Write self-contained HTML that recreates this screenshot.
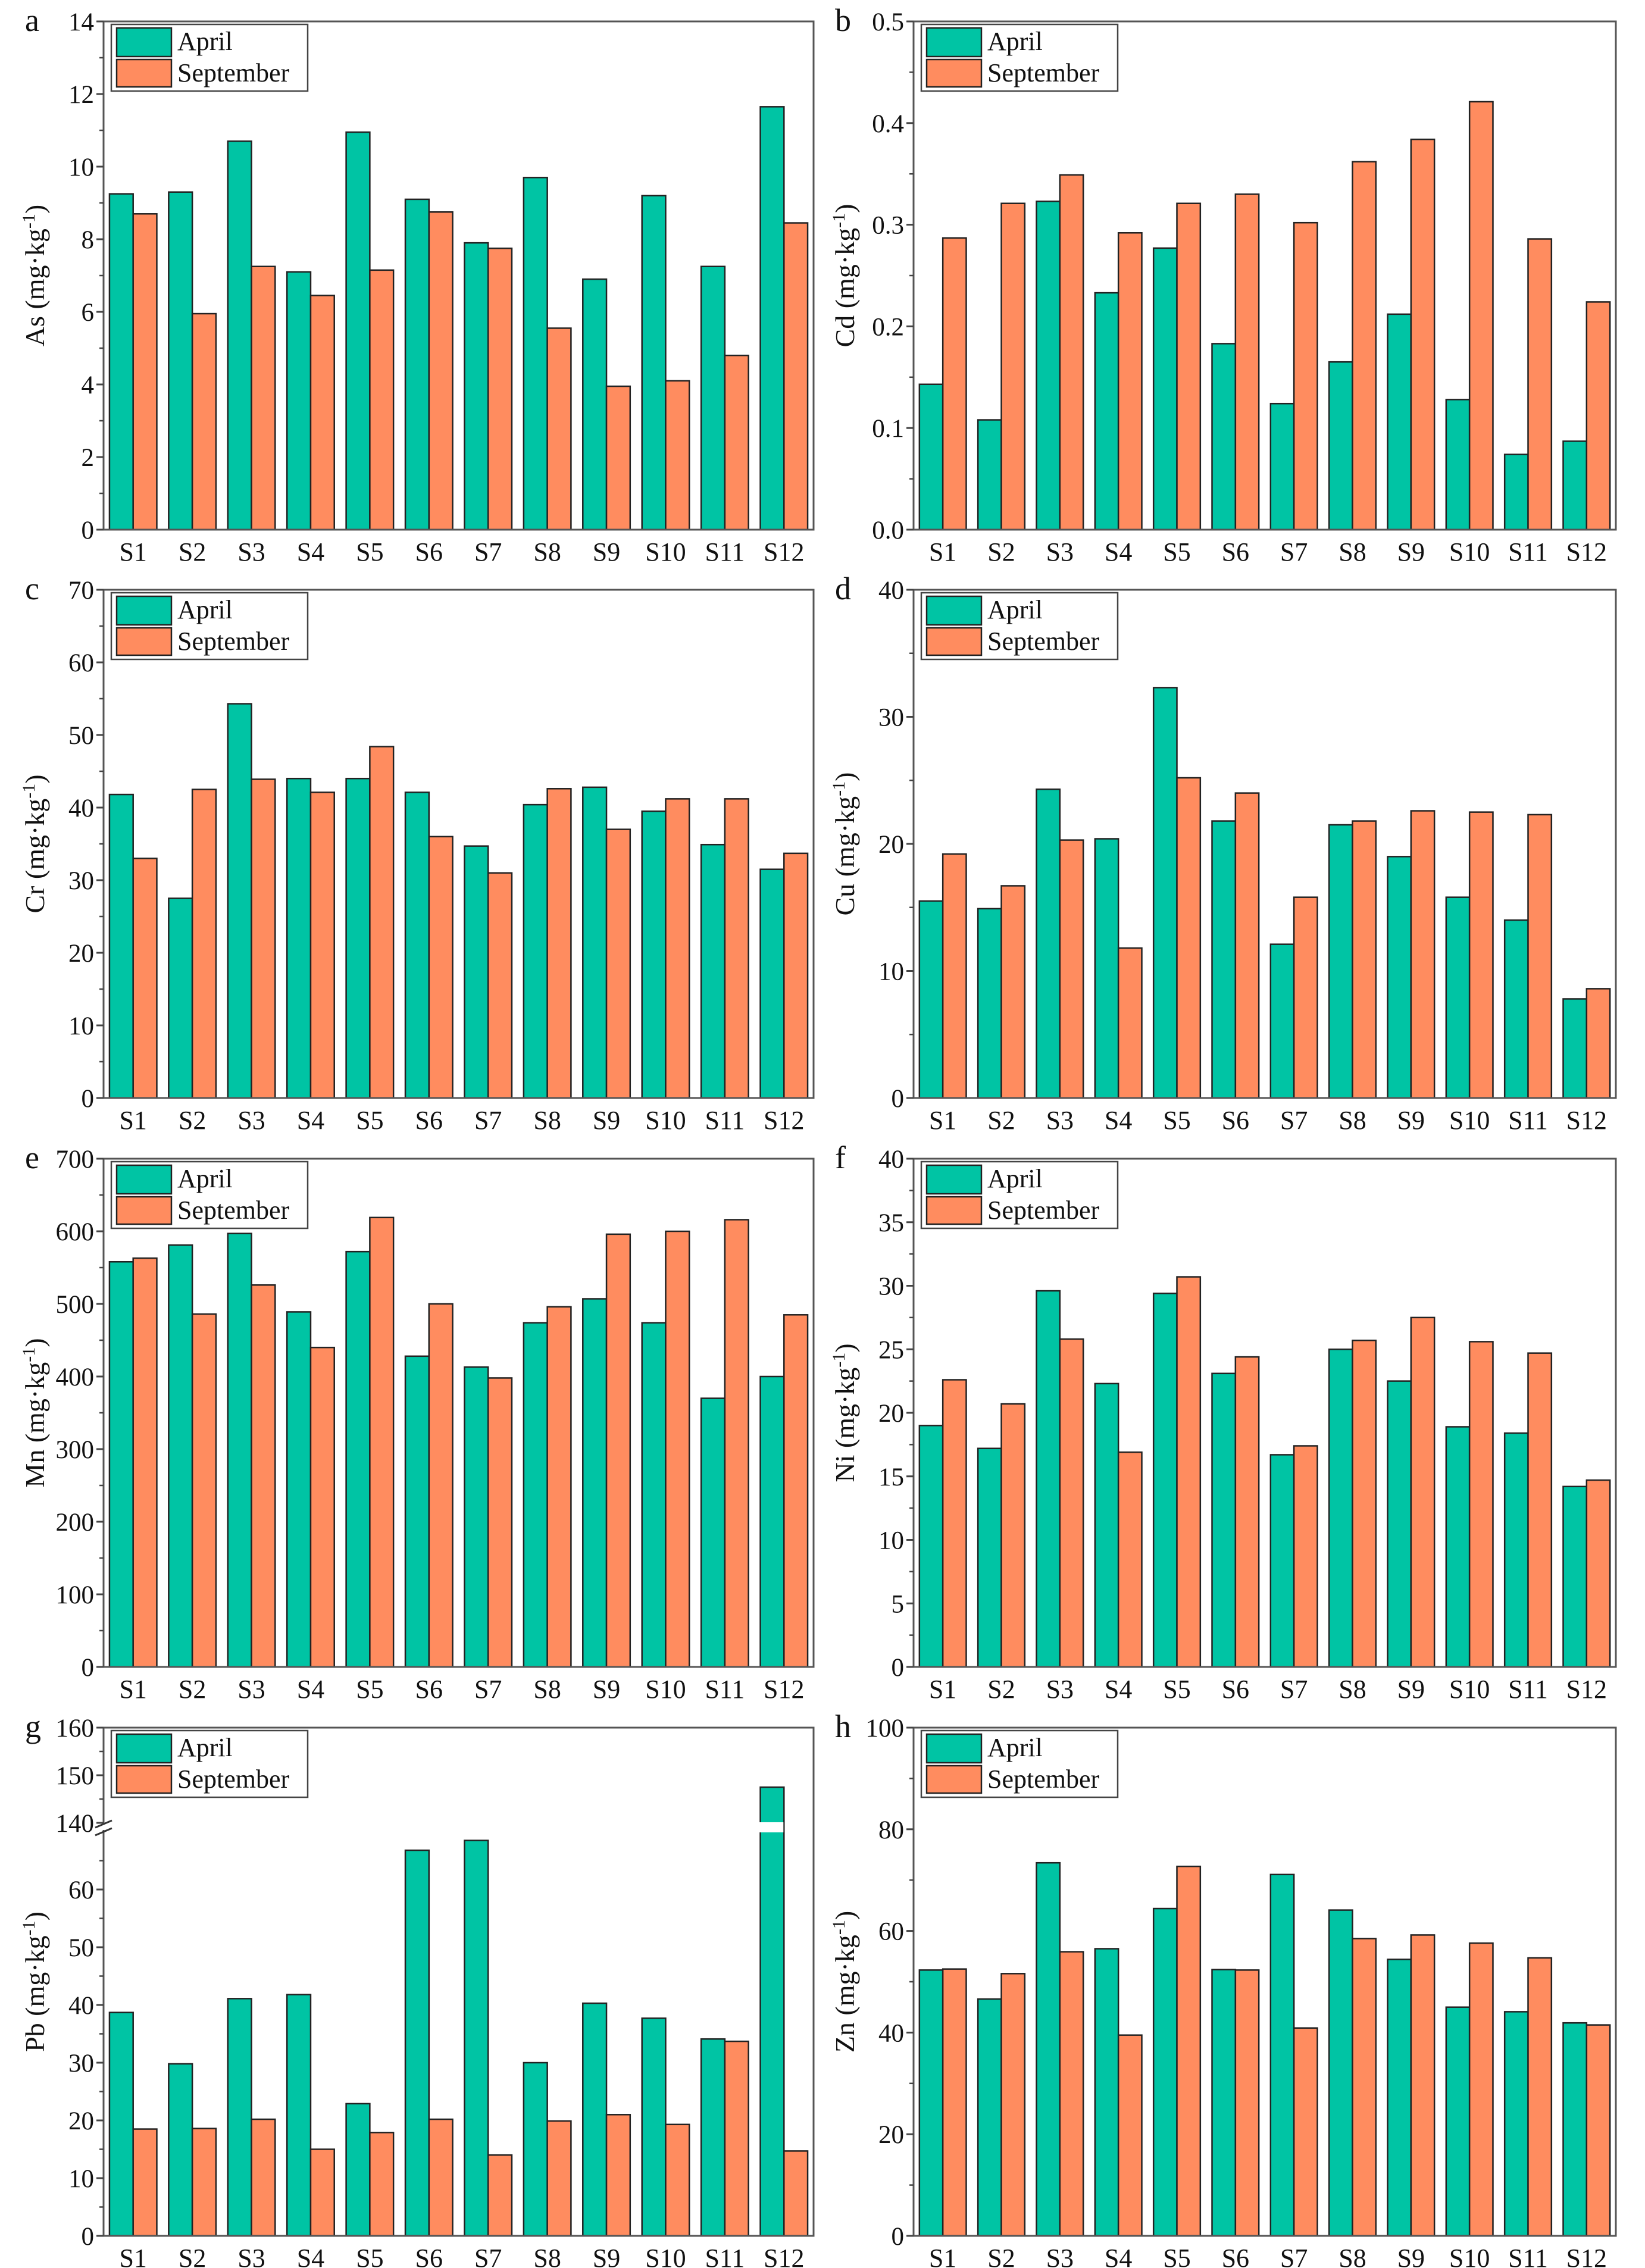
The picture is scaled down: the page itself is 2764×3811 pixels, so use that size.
<!DOCTYPE html>
<html><head><meta charset="utf-8"><style>
body{margin:0;background:#fff}
svg{display:block}
text{font-family:"Liberation Serif",serif;fill:#111}
</style></head><body>
<svg id="fig" xmlns="http://www.w3.org/2000/svg" width="2764" height="3811" viewBox="0 0 2764 3811"></svg>
<script>
const sites=["S1","S2","S3","S4","S5","S6","S7","S8","S9","S10","S11","S12"];
const asApr=[9.25,9.3,10.7,7.1,10.95,9.1,7.9,9.7,6.9,9.2,7.25,11.65];
const asSep=[8.7,5.95,7.25,6.45,7.15,8.75,7.75,5.55,3.95,4.1,4.8,8.45];
const cdApr=[0.143,0.108,0.323,0.233,0.277,0.183,0.124,0.165,0.212,0.128,0.074,0.087];
const cdSep=[0.287,0.321,0.349,0.292,0.321,0.330,0.302,0.362,0.384,0.421,0.286,0.224];
const crApr=[41.8,27.5,54.3,44.0,44.0,42.1,34.7,40.4,42.8,39.5,34.9,31.5];
const crSep=[33.0,42.5,43.9,42.1,48.4,36.0,31.0,42.6,37.0,41.2,41.2,33.7];
const cuApr=[15.5,14.9,24.3,20.4,32.3,21.8,12.1,21.5,19.0,15.8,14.0,7.8];
const cuSep=[19.2,16.7,20.3,11.8,25.2,24.0,15.8,21.8,22.6,22.5,22.3,8.6];
const mnApr=[558,581,597,489,572,428,413,474,507,474,370,400];
const mnSep=[563,486,526,440,619,500,398,496,596,600,616,485];
const niApr=[19.0,17.2,29.6,22.3,29.4,23.1,16.7,25.0,22.5,18.9,18.4,14.2];
const niSep=[22.6,20.7,25.8,16.9,30.7,24.4,17.4,25.7,27.5,25.6,24.7,14.7];
const pbApr=[38.7,29.8,41.1,41.8,22.9,66.8,68.5,30.0,40.3,37.7,34.1,147.5];
const pbSep=[18.5,18.6,20.2,15.0,17.9,20.2,14.0,19.9,21.0,19.3,33.7,14.7];
const znApr=[52.3,46.6,73.4,56.5,64.4,52.4,71.1,64.1,54.4,45.0,44.1,41.9];
const znSep=[52.5,51.6,55.9,39.5,72.7,52.3,40.9,58.5,59.2,57.6,54.7,41.5];
const asTicks=[0,2,4,6,8,10,12,14];
const cdTicks=["0.0","0.1","0.2","0.3","0.4","0.5"];
const crTicks=[0,10,20,30,40,50,60,70];
const cuTicks=[0,10,20,30,40];
const mnTicks=[0,100,200,300,400,500,600,700];
const niTicks=[0,5,10,15,20,25,30,35,40];
const pbLowTicks=[0,10,20,30,40,50,60];
const pbHighTicks=[140,150,160];
const znTicks=[0,20,40,60,80,100];

const NS="http://www.w3.org/2000/svg";
const svg=document.getElementById('fig');
const TEAL="#00C4A4",ORANGE="#FF8C5F";
function mk(tag,attrs,parent){const e=document.createElementNS(NS,tag);for(const k in attrs)e.setAttribute(k,attrs[k]);(parent||svg).appendChild(e);return e;}

const colL=[174,1367],colR=[1535,2715];
const rowT=[36,991,1947,2903],PH=854;

function panel(letter,col,row,title,ticks,apr,sep,broken){
  const g=mk('g',{});
  
  
  const L=col[0],R=col[1],T=rowT[row],B=T+PH,W=R-L,gw=W/12;
  const tv=ticks.map(Number);
  let y;
  if(!broken){
    const max=tv[tv.length-1];
    y=v=>B-v/max*PH;
  }else{
    y=v=>v>=140?T+(160-v)/20*160:B-v/70*679;
  }
  for(let i=0;i<12;i++){
    const cx=L+(i+0.5)*gw,bw=gw*0.4;
    const a=mk('rect',{x:cx-bw,y:y(apr[i]),width:bw,height:B-y(apr[i]),fill:TEAL,stroke:"#222","stroke-width":2.5},g);
    
    
    const s=mk('rect',{x:cx,y:y(sep[i]),width:bw,height:B-y(sep[i]),fill:ORANGE,stroke:"#222","stroke-width":2.5},g);
    
    
    const t=mk('text',{x:cx,y:B+52,"font-size":44,"text-anchor":"middle"},g);t.textContent=sites[i];
    
    
    if(broken&&apr[i]>140){
      mk('rect',{x:cx-bw-3,y:y(140)-1,width:bw+2,height:(B-679)-y(140)+2,fill:"#fff"},g);
    }
  }
  const fr=mk('rect',{x:L,y:T,width:W,height:PH,fill:"none",stroke:"#555","stroke-width":3},g);
  
  
  if(broken){
    mk('rect',{x:L-4,y:y(140)+3,width:8,height:(B-679)-y(140)-6,fill:"#fff"},g);
    mk('line',{x1:L-14,y1:y(140)+8,x2:L+14,y2:y(140)-4,stroke:"#333","stroke-width":3},g);
    mk('line',{x1:L-14,y1:B-679+6,x2:L+14,y2:B-679-6,stroke:"#333","stroke-width":3},g);
  }
  function tick(v,label){
    const yy=y(v);
    mk('line',{x1:L-12,y1:yy,x2:L,y2:yy,stroke:"#444","stroke-width":3},g);
    const t=mk('text',{x:L-16,y:yy+15,"font-size":43,"text-anchor":"end"},g);t.textContent=label;
    
    
  }
  function minor(v){const yy=y(v);mk('line',{x1:L-7,y1:yy,x2:L,y2:yy,stroke:"#444","stroke-width":2.5},g);}
  if(!broken){
    ticks.forEach((lab,k)=>{tick(tv[k],String(lab));if(k<tv.length-1)minor((tv[k]+tv[k+1])/2);});
  }else{
    pbLowTicks.forEach((v)=>{tick(v,String(v));minor(v+5);});
    pbHighTicks.forEach((v,k)=>{tick(v,String(v));if(k<pbHighTicks.length-1)minor(v+5);});
  }
  const cy=(T+B)/2,tx=L-100;
  const yt=mk('text',{x:tx,y:cy,"font-size":46,"text-anchor":"middle",transform:`rotate(-90 ${tx} ${cy})`},g);
  yt.innerHTML=title+' (mg·kg<tspan dy="-16" font-size="30">-1</tspan><tspan dy="16">)</tspan>';
  
  
  const pl=mk('text',{x:L-132,y:T+16,"font-size":54},g);pl.textContent=letter;
  
  
  const lg=mk('g',{},g);
  
  
  mk('rect',{x:L+13,y:T+5,width:330,height:112,fill:"#fff",stroke:"#444","stroke-width":2.5},lg);
  const e1=mk('rect',{x:L+22,y:T+11,width:92,height:48,fill:TEAL,stroke:"#222","stroke-width":2.5},lg);
  
  
  const e2=mk('rect',{x:L+22,y:T+64,width:92,height:46,fill:ORANGE,stroke:"#222","stroke-width":2.5},lg);
  
  
  const t1=mk('text',{x:L+124,y:T+48,"font-size":44},lg);t1.textContent="April";
  
  
  const t2=mk('text',{x:L+124,y:T+101,"font-size":44},lg);t2.textContent="September";
  
  
}
panel('a',colL,0,'As',asTicks,asApr,asSep);
panel('b',colR,0,'Cd',cdTicks,cdApr,cdSep);
panel('c',colL,1,'Cr',crTicks,crApr,crSep);
panel('d',colR,1,'Cu',cuTicks,cuApr,cuSep);
panel('e',colL,2,'Mn',mnTicks,mnApr,mnSep);
panel('f',colR,2,'Ni',niTicks,niApr,niSep);
panel('g',colL,3,'Pb',pbHighTicks,pbApr,pbSep,true);
panel('h',colR,3,'Zn',znTicks,znApr,znSep);
</script>
</body></html>
